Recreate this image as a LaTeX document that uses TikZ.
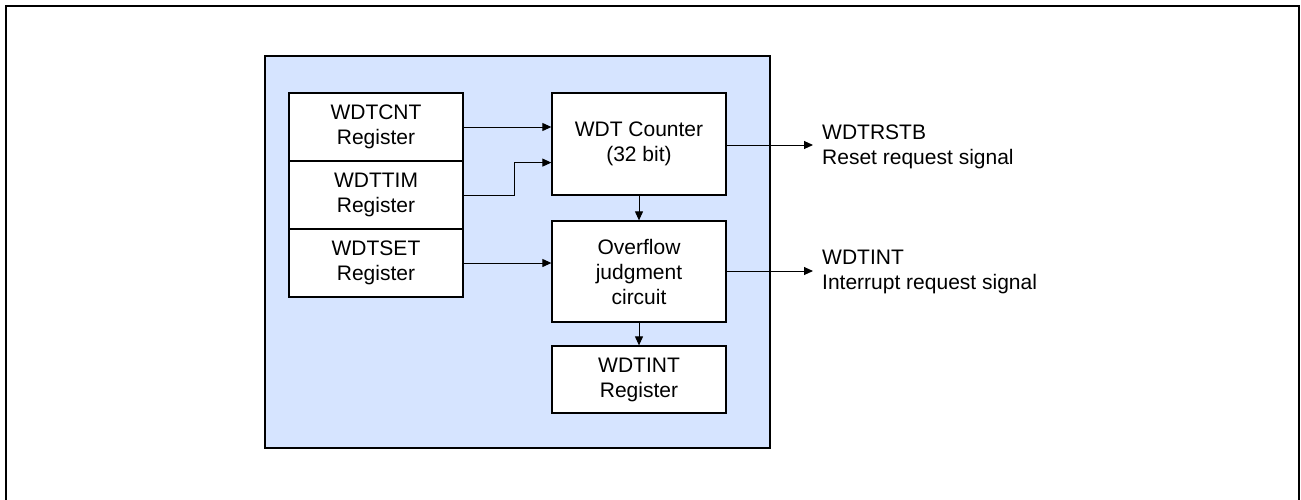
\documentclass[tikz,border=0pt]{standalone}
\usepackage{fontspec}
\setmainfont{Liberation Sans}
\usetikzlibrary{arrows.meta,calc}
\definecolor{wdtblue}{RGB}{214,228,255}
\tikzset{
  blk/.style={draw=black, fill=white, line width=1.3pt, inner sep=0pt, align=center,
    font=\fontsize{21}{25}\selectfont},
  reg/.style={blk, minimum width=174pt, minimum height=68pt},
  arr/.style={line width=1pt, -{Triangle[length=9pt,width=8pt]}},
  sig/.style={anchor=north west, inner sep=0pt, align=left, font=\fontsize{21}{25}\selectfont}
}
\begin{document}
\begin{tikzpicture}[x=1pt,y=-1pt]
\useasboundingbox (0,0) rectangle (1301,499);
\clip (0,0) rectangle (1301,499);
\draw[line width=2pt] (6,6) rectangle (1299,530);
\node[draw=black, fill=wdtblue, line width=1.3pt, minimum width=505pt, minimum height=392pt, inner sep=0pt] (wdt) at (517.5,252) {};
\node[reg] (cnt) at (376,127) {WDTCNT\\Register};
\node[reg] (tim) at (376,195) {WDTTIM\\Register};
\node[reg] (set) at (376,263) {WDTSET\\Register};
\node[blk, minimum width=174pt, minimum height=102pt] (ctr) at (639,144) {WDT Counter\\(32 bit)};
\node[blk, minimum width=174pt, minimum height=101pt] (ovf) at (639,271.5) {Overflow\\judgment\\circuit};
\node[blk, minimum width=174pt, minimum height=67pt] (int) at (639,379.5) {WDTINT\\Register};
\coordinate (o1) at (813,145);
\coordinate (o2) at (813,271);
\node[sig] (l1) at (822,125) {WDTRSTB\\Reset request signal};
\node[sig] (l2) at (822,250) {WDTINT\\Interrupt request signal};
\draw[arr] (cnt.east) -- (cnt.east -| ctr.west);
\draw[arr] (tim.east) -- ++(51,0) |- ($(ctr.south west)!0.32!(ctr.north west)$);
\draw[arr] (set.east) -- (set.east -| ovf.west);
\draw[arr] (ctr.south) -- (ovf.north);
\draw[arr] (ovf.south) -- (int.north);
\draw[arr] (ctr.east |- o1) -- (o1);
\draw[arr] (ovf.east |- o2) -- (o2);
\end{tikzpicture}
\end{document}
